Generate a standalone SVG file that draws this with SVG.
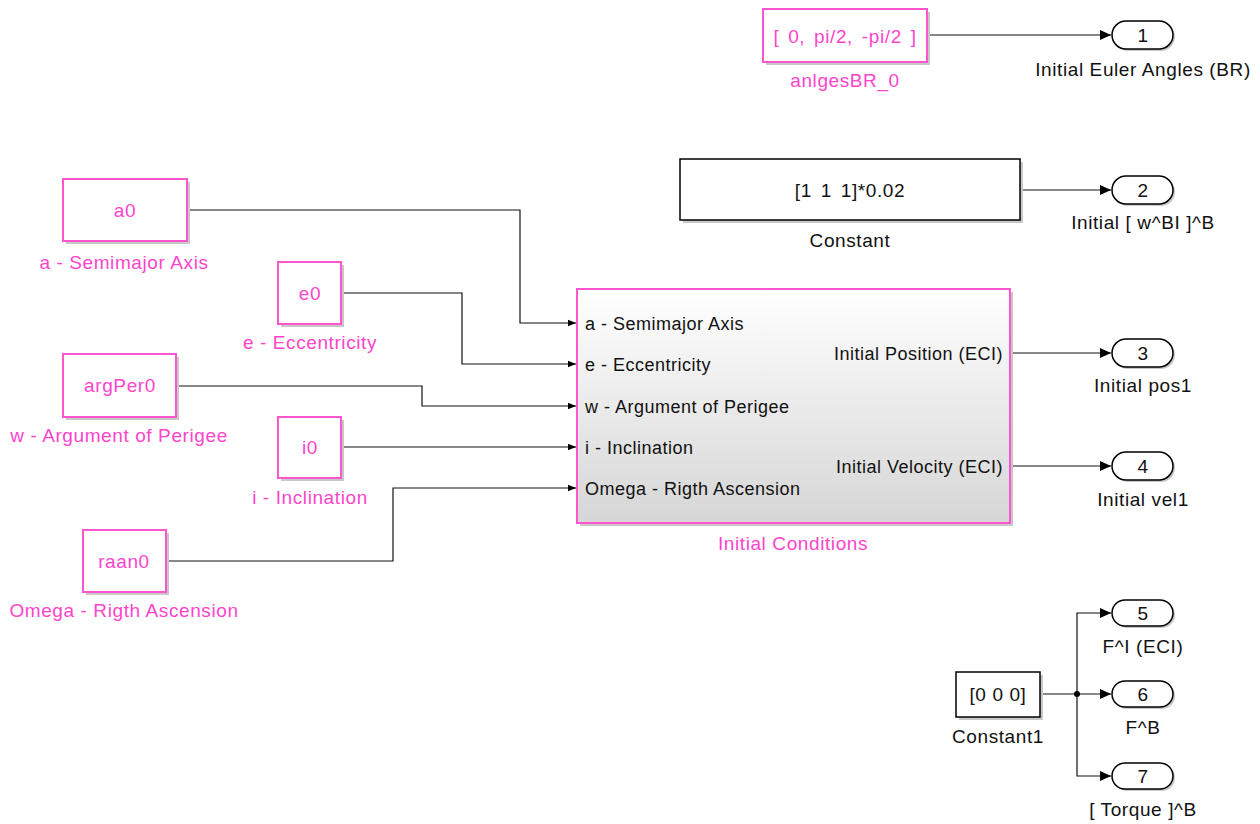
<svg xmlns="http://www.w3.org/2000/svg" width="1260" height="824" viewBox="0 0 1260 824">
<defs>
<linearGradient id="g" x1="0" y1="0" x2="0" y2="1"><stop offset="0" stop-color="#ffffff"/><stop offset="1" stop-color="#d6d6d6"/></linearGradient>
<marker id="ar" viewBox="0 0 10 10" refX="10" refY="5" markerWidth="11" markerHeight="11" markerUnits="userSpaceOnUse" orient="auto"><path d="M0,0.5 L10,5 L0,9.5 z" fill="#000"/></marker>
<marker id="as" viewBox="0 0 10 10" refX="10" refY="5" markerWidth="8" markerHeight="8" markerUnits="userSpaceOnUse" orient="auto"><path d="M0,1 L10,5 L0,9 z" fill="#000"/></marker>
</defs>
<style>
text{font-family:"Liberation Sans",Arial,sans-serif;font-size:19px;letter-spacing:0.6px}
.i{font-size:18px;letter-spacing:0.5px}
.v{word-spacing:3px}
.m{fill:#ff44cc}
.k{fill:#111}
.c{text-anchor:middle}
.r{text-anchor:end}
.bm{fill:#fff;stroke:#ff55d0;stroke-width:2}
.bk{fill:#fff;stroke:#000;stroke-width:1.5}
.sh{fill:#c8c8c8}
.op{fill:#fff;stroke:#000;stroke-width:1.5}
.w{fill:none;stroke:#111;stroke-width:1.2}
</style>
<rect width="1260" height="824" fill="#fff"/>
<g id="connectors">
<path class="w" d="M928,35 H1111" marker-end="url(#ar)"/>
<path class="w" d="M1021,190 H1111" marker-end="url(#ar)"/>
<path class="w" d="M187,210 H520 V323 H576" marker-end="url(#as)"/>
<path class="w" d="M341,293 H462 V364 H576" marker-end="url(#as)"/>
<path class="w" d="M176,386 H422 V406 H576" marker-end="url(#as)"/>
<path class="w" d="M341,447 H576" marker-end="url(#as)"/>
<path class="w" d="M166,561 H393 V488 H576" marker-end="url(#as)"/>
<path class="w" d="M1011,353 H1111" marker-end="url(#ar)"/>
<path class="w" d="M1011,466 H1111" marker-end="url(#ar)"/>
<path class="w" d="M1040,694 H1111" marker-end="url(#ar)"/>
<path class="w" d="M1077,694 V613 H1111" marker-end="url(#ar)"/>
<path class="w" d="M1077,694 V776 H1111" marker-end="url(#ar)"/>
<circle cx="1077" cy="694" r="3" fill="#000"/>
</g>
<g id="anglesBR_0">
<rect class="sh" x="766" y="12" width="164" height="53"/>
<rect class="bm" x="763" y="9" width="164" height="53"/>
<text class="m c v" x="845" y="43">[ 0, pi/2, -pi/2 ]</text>
<text class="m c" x="845" y="87">anlgesBR_0</text>
</g>
<g id="constant">
<rect class="sh" x="683" y="162" width="340" height="61"/>
<rect class="bk" x="680" y="159" width="340" height="61"/>
<text class="k c v" x="850" y="197">[1 1 1]*0.02</text>
<text class="k c" x="850" y="247">Constant</text>
</g>
<g id="a0">
<rect class="sh" x="66" y="182" width="124" height="62"/>
<rect class="bm" x="63" y="179" width="124" height="62"/>
<text class="m c" x="125" y="217">a0</text>
<text class="m c" x="124" y="269">a - Semimajor Axis</text>
</g>
<g id="e0">
<rect class="sh" x="281" y="265" width="63" height="62"/>
<rect class="bm" x="278" y="262" width="63" height="62"/>
<text class="m c" x="310" y="300">e0</text>
<text class="m c" x="310" y="349">e - Eccentricity</text>
</g>
<g id="argPer0">
<rect class="sh" x="66" y="357" width="113" height="63"/>
<rect class="bm" x="63" y="354" width="113" height="63"/>
<text class="m c" x="120" y="392">argPer0</text>
<text class="m c" x="119" y="442">w - Argument of Perigee</text>
</g>
<g id="i0">
<rect class="sh" x="281" y="420" width="63" height="61"/>
<rect class="bm" x="278" y="417" width="63" height="61"/>
<text class="m c" x="310" y="454">i0</text>
<text class="m c" x="310" y="504">i - Inclination</text>
</g>
<g id="raan0">
<rect class="sh" x="86" y="533" width="83" height="62"/>
<rect class="bm" x="83" y="530" width="83" height="62"/>
<text class="m c" x="124" y="568">raan0</text>
<text class="m c" x="124" y="617">Omega - Rigth Ascension</text>
</g>
<g id="initialConditions">
<rect class="sh" x="580" y="292" width="433" height="234"/>
<rect x="577" y="289" width="433" height="234" fill="url(#g)" stroke="#ff55d0" stroke-width="2"/>
<text class="k i" x="585" y="330">a - Semimajor Axis</text>
<text class="k i" x="585" y="371">e - Eccentricity</text>
<text class="k i" x="585" y="413">w - Argument of Perigee</text>
<text class="k i" x="585" y="454">i - Inclination</text>
<text class="k i" x="585" y="495">Omega - Rigth Ascension</text>
<text class="k i r" x="1003" y="360">Initial Position (ECI)</text>
<text class="k i r" x="1003" y="473">Initial Velocity  (ECI)</text>
<text class="m c" x="793" y="550">Initial Conditions</text>
</g>
<g id="out1">
<rect class="sh" x="1114" y="23" width="61" height="28" rx="14"/>
<rect class="op" x="1112" y="21" width="61" height="28" rx="14"/>
<text class="k c" x="1143" y="42">1</text>
<text class="k c" x="1143" y="76">Initial Euler Angles (BR)</text>
</g>
<g id="out2">
<rect class="sh" x="1114" y="178" width="61" height="28" rx="14"/>
<rect class="op" x="1112" y="176" width="61" height="28" rx="14"/>
<text class="k c" x="1143" y="197">2</text>
<text class="k c" x="1143" y="229">Initial [ w^BI ]^B</text>
</g>
<g id="out3">
<rect class="sh" x="1114" y="341" width="61" height="28" rx="14"/>
<rect class="op" x="1112" y="339" width="61" height="28" rx="14"/>
<text class="k c" x="1143" y="360">3</text>
<text class="k c" x="1143" y="392">Initial pos1</text>
</g>
<g id="out4">
<rect class="sh" x="1114" y="454" width="61" height="28" rx="14"/>
<rect class="op" x="1112" y="452" width="61" height="28" rx="14"/>
<text class="k c" x="1143" y="473">4</text>
<text class="k c" x="1143" y="506">Initial vel1</text>
</g>
<g id="constant1">
<rect class="sh" x="959" y="675" width="84" height="45"/>
<rect class="bk" x="956" y="672" width="84" height="45"/>
<text class="k c" x="998" y="701">[0 0 0]</text>
<text class="k c" x="998" y="743">Constant1</text>
</g>
<g id="out5">
<rect class="sh" x="1114" y="602" width="61" height="26" rx="13"/>
<rect class="op" x="1112" y="600" width="61" height="26" rx="13"/>
<text class="k c" x="1143" y="620">5</text>
<text class="k c" x="1143" y="653">F^I (ECI)</text>
</g>
<g id="out6">
<rect class="sh" x="1114" y="683" width="61" height="26" rx="13"/>
<rect class="op" x="1112" y="681" width="61" height="26" rx="13"/>
<text class="k c" x="1143" y="701">6</text>
<text class="k c" x="1143" y="734">F^B</text>
</g>
<g id="out7">
<rect class="sh" x="1114" y="765" width="61" height="26" rx="13"/>
<rect class="op" x="1112" y="763" width="61" height="26" rx="13"/>
<text class="k c" x="1143" y="783">7</text>
<text class="k c" x="1143" y="816">[ Torque ]^B</text>
</g>
</svg>
